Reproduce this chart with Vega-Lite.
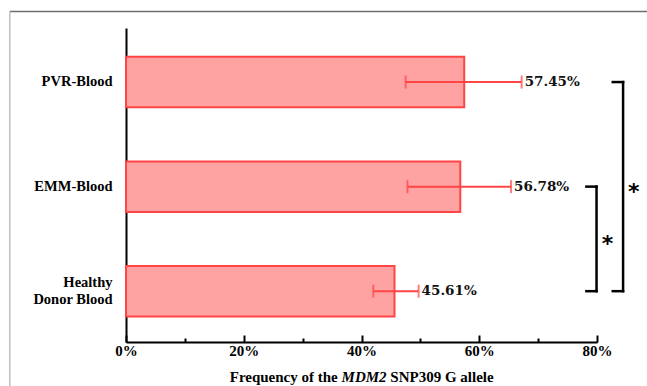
{
  "$schema": "https://vega.github.io/schema/vega-lite/v6.json",
  "width": 471,
  "height": 314,
  "autosize": {"type": "none"},
  "padding": {"left": 126, "top": 28, "right": 50, "bottom": 44},
  "background": "white",
  "config": {"view": {"stroke": null}},
  "data": {
    "values": [
      {"group": "PVR-Blood", "freq": 57.45, "low": 47.5, "high": 67.2, "label": "57.45%"},
      {"group": "EMM-Blood", "freq": 56.78, "low": 47.8, "high": 65.4, "label": "56.78%"},
      {"group": "Healthy Donor Blood", "freq": 45.61, "low": 42.0, "high": 49.7, "label": "45.61%"}
    ]
  },
  "layer": [
    {
      "encoding": {
        "y": {
          "field": "group",
          "type": "nominal",
          "sort": ["PVR-Blood", "EMM-Blood", "Healthy Donor Blood"],
          "scale": {"paddingInner": 0.517, "paddingOuter": 0.26, "align": 0.53},
          "axis": {
            "title": null,
            "ticks": false,
            "domainColor": "black",
            "domainWidth": 2,
            "labelFont": "Liberation Serif",
            "labelFontWeight": "bold",
            "labelFontSize": 14.5,
            "labelColor": "black",
            "labelPadding": 14,
            "labelLineHeight": 17,
            "labelOffset": {"condition": {"test": "datum.label == 'Healthy Donor Blood'", "value": -8}, "value": 0},
            "labelExpr": "datum.label == 'Healthy Donor Blood' ? ['Healthy', 'Donor Blood'] : datum.label"
          }
        }
      },
      "layer": [
        {
          "mark": {"type": "bar", "fill": "#ffa2a2", "stroke": "#ff4545", "strokeWidth": 2},
          "encoding": {
            "x": {
              "field": "freq",
              "type": "quantitative",
              "scale": {"domain": [0, 80], "nice": false, "zero": true},
              "axis": {
                "title": null,
                "values": [0, 10, 20, 30, 40, 50, 60, 70, 80],
                "grid": false,
                "domainColor": "black",
                "domainWidth": 2,
                "tickColor": "black",
                "tickWidth": 2,
                "tickSize": {"condition": {"test": "datum.value % 20 === 0", "value": -7}, "value": -4},
                "labelExpr": "datum.value % 20 === 0 ? datum.value + '%' : ''",
                "labelFont": "Liberation Serif",
                "labelFontWeight": "bold",
                "labelFontSize": 15,
                "labelColor": "black",
                "labelPadding": 8,
                "labelFlush": false
              }
            }
          }
        },
        {
          "mark": {"type": "rule", "color": "#ff4545", "strokeWidth": 2},
          "encoding": {
            "x": {"field": "low", "type": "quantitative"},
            "x2": {"field": "high"}
          }
        },
        {
          "mark": {"type": "tick", "color": "#ff4545", "thickness": 2, "size": 13},
          "encoding": {"x": {"field": "low", "type": "quantitative"}}
        },
        {
          "mark": {"type": "tick", "color": "#ff4545", "thickness": 2, "size": 13},
          "encoding": {"x": {"field": "high", "type": "quantitative"}}
        },
        {
          "mark": {"type": "text", "align": "left", "baseline": "middle", "dx": 3, "font": "DejaVu Serif", "fontWeight": "bold", "fontSize": 13.5, "color": "#111"},
          "encoding": {
            "x": {"field": "high", "type": "quantitative"},
            "text": {"field": "label"}
          }
        }
      ]
    },
    {
      "data": {"values": [{}]},
      "layer": [
        {
          "mark": {"type": "rule", "color": "#6e6e6e", "strokeWidth": 1.5},
          "encoding": {
            "x": {"datum": -19.74, "type": "quantitative", "scale": {"domain": [0, 80], "nice": false}},
            "x2": {"datum": 90},
            "y": {"datum": 3.675, "type": "quantitative", "scale": {"domain": [0.514, 3.517], "nice": false, "zero": false}, "axis": null}
          }
        },
        {
          "mark": {"type": "rule", "color": "#c0c0c0", "strokeWidth": 1.5},
          "encoding": {
            "x": {"datum": -19.74, "type": "quantitative", "scale": {"domain": [0, 80], "nice": false}},
            "y": {"datum": 3.675, "type": "quantitative", "scale": {"domain": [0.514, 3.517], "nice": false, "zero": false}, "axis": null},
            "y2": {"datum": 0.05}
          }
        },
        {
          "mark": {"type": "rule", "color": "black", "strokeWidth": 2.5, "strokeCap": "square"},
          "encoding": {
            "x": {"datum": 84.43, "type": "quantitative", "scale": {"domain": [0, 80], "nice": false}},
            "y": {"datum": 3, "type": "quantitative", "scale": {"domain": [0.514, 3.517], "nice": false, "zero": false}, "axis": null},
            "y2": {"datum": 1}
          }
        },
        {
          "mark": {"type": "rule", "color": "black", "strokeWidth": 2.5, "strokeCap": "square"},
          "encoding": {
            "x": {"datum": 82.68, "type": "quantitative", "scale": {"domain": [0, 80], "nice": false}},
            "x2": {"datum": 84.43},
            "y": {"datum": 3, "type": "quantitative", "scale": {"domain": [0.514, 3.517], "nice": false, "zero": false}, "axis": null}
          }
        },
        {
          "mark": {"type": "rule", "color": "black", "strokeWidth": 2.5, "strokeCap": "square"},
          "encoding": {
            "x": {"datum": 82.68, "type": "quantitative", "scale": {"domain": [0, 80], "nice": false}},
            "x2": {"datum": 84.43},
            "y": {"datum": 1, "type": "quantitative", "scale": {"domain": [0.514, 3.517], "nice": false, "zero": false}, "axis": null}
          }
        },
        {
          "mark": {"type": "rule", "color": "black", "strokeWidth": 2.5, "strokeCap": "square"},
          "encoding": {
            "x": {"datum": 79.92, "type": "quantitative", "scale": {"domain": [0, 80], "nice": false}},
            "y": {"datum": 2, "type": "quantitative", "scale": {"domain": [0.514, 3.517], "nice": false, "zero": false}, "axis": null},
            "y2": {"datum": 1}
          }
        },
        {
          "mark": {"type": "rule", "color": "black", "strokeWidth": 2.5, "strokeCap": "square"},
          "encoding": {
            "x": {"datum": 78.2, "type": "quantitative", "scale": {"domain": [0, 80], "nice": false}},
            "x2": {"datum": 79.92},
            "y": {"datum": 2, "type": "quantitative", "scale": {"domain": [0.514, 3.517], "nice": false, "zero": false}, "axis": null}
          }
        },
        {
          "mark": {"type": "rule", "color": "black", "strokeWidth": 2.5, "strokeCap": "square"},
          "encoding": {
            "x": {"datum": 78.2, "type": "quantitative", "scale": {"domain": [0, 80], "nice": false}},
            "x2": {"datum": 79.92},
            "y": {"datum": 1, "type": "quantitative", "scale": {"domain": [0.514, 3.517], "nice": false, "zero": false}, "axis": null}
          }
        },
        {
          "mark": {"type": "text", "text": "*", "align": "center", "baseline": "middle", "dy": 5, "font": "DejaVu Sans", "fontWeight": "bold", "fontSize": 22, "color": "black"},
          "encoding": {
            "x": {"datum": 86.25, "type": "quantitative", "scale": {"domain": [0, 80], "nice": false}},
            "y": {"datum": 2, "type": "quantitative", "scale": {"domain": [0.514, 3.517], "nice": false, "zero": false}, "axis": null}
          }
        },
        {
          "mark": {"type": "text", "text": "*", "align": "center", "baseline": "middle", "dy": 5, "font": "DejaVu Sans", "fontWeight": "bold", "fontSize": 22, "color": "black"},
          "encoding": {
            "x": {"datum": 81.8, "type": "quantitative", "scale": {"domain": [0, 80], "nice": false}},
            "y": {"datum": 1.5, "type": "quantitative", "scale": {"domain": [0.514, 3.517], "nice": false, "zero": false}, "axis": null}
          }
        },
        {
          "mark": {"type": "text", "text": "Frequency of the", "align": "right", "baseline": "alphabetic", "font": "Liberation Serif", "fontWeight": "bold", "fontSize": 15, "color": "black"},
          "encoding": {
            "x": {"datum": 35.97, "type": "quantitative", "scale": {"domain": [0, 80], "nice": false}},
            "y": {"datum": 0.134, "type": "quantitative", "scale": {"domain": [0.514, 3.517], "nice": false, "zero": false}, "axis": null}
          }
        },
        {
          "mark": {"type": "text", "text": "MDM2", "align": "center", "baseline": "alphabetic", "font": "Liberation Serif", "fontWeight": "bold", "fontStyle": "italic", "fontSize": 15, "color": "black"},
          "encoding": {
            "x": {"datum": 40.44, "type": "quantitative", "scale": {"domain": [0, 80], "nice": false}},
            "y": {"datum": 0.134, "type": "quantitative", "scale": {"domain": [0.514, 3.517], "nice": false, "zero": false}, "axis": null}
          }
        },
        {
          "mark": {"type": "text", "text": "SNP309 G allele", "align": "left", "baseline": "alphabetic", "font": "Liberation Serif", "fontWeight": "bold", "fontSize": 15, "color": "black"},
          "encoding": {
            "x": {"datum": 44.89, "type": "quantitative", "scale": {"domain": [0, 80], "nice": false}},
            "y": {"datum": 0.134, "type": "quantitative", "scale": {"domain": [0.514, 3.517], "nice": false, "zero": false}, "axis": null}
          }
        }
      ]
    }
  ],
  "resolve": {"scale": {"y": "independent"}, "axis": {"y": "independent"}}
}
